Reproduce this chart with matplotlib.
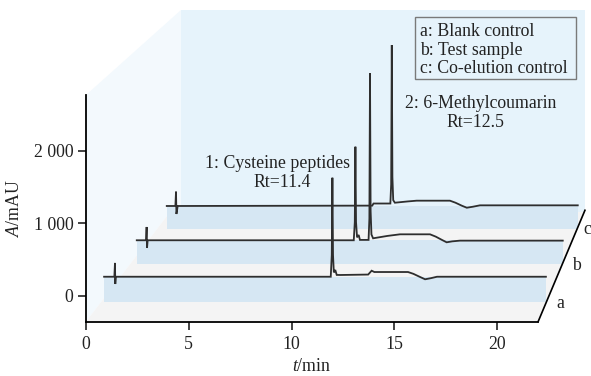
import matplotlib
matplotlib.use("Agg")
import matplotlib.pyplot as plt
from matplotlib.patches import Polygon, Rectangle

plt.rcParams['font.family'] = ['Liberation Serif', 'DejaVu Serif']
plt.rcParams['mathtext.fontset'] = 'custom'
plt.rcParams['mathtext.it'] = 'Liberation Serif:italic'
plt.rcParams['mathtext.rm'] = 'Liberation Serif'

# ---------------- data ----------------
trace_names = ['a', 'b', 'c']
legend_lines = ['a: Blank control', 'b: Test sample', 'c: Co-elution control']

# stacking offsets (pseudo-3D): time shift (min) and absorbance shift (mAU)
offset_t = [0.88, 2.47, 3.93]
offset_a = [265, 767, 1239]
band_bottom = [-78, 438, 918]

# a: blank control (raw time, raw absorbance)
t_a = [0, 0.50, 0.53, 0.545, 0.57, 11.03, 11.08, 11.11, 11.14, 11.18, 11.25, 11.32, 11.5,
       12.85, 13.02, 13.15, 14.79, 15.05, 15.35, 15.62, 15.9, 16.2, 21.5]
a_a = [0, 0, 190, -100, 0, 0, 300, 1363, 300, 60, 93, 25, 24,
       30, 83, 65, 65, 40, 0, -35, -20, 0, 0]

# b: test sample
t_b = [0, 0.45, 0.48, 0.50, 0.53, 10.56, 10.61, 10.64, 10.67, 10.72, 10.80, 10.86,
       11.28, 11.32, 11.35, 11.38, 11.42, 11.5, 12.2, 12.81, 14.27, 14.55, 14.85, 15.08, 15.35, 15.73, 20.73]
a_b = [0, 0, 183, -106, 0, 0, 250, 1288, 250, 40, 73, 5,
       5, 300, 2298, 400, 80, 27, 60, 82, 82, 50, 5, -28, -15, -5, -5]

# c: co-elution control
t_c = [0, 0.42, 0.45, 0.47, 0.50, 0.53, 10.0, 10.06, 10.88, 10.92, 10.95, 10.98, 11.02, 11.1,
       11.7, 12.16, 13.78, 14.05, 14.35, 14.6, 14.9, 15.24, 20.0]
a_c = [0, 0, 197, -110, -60, 0, 5, 34, 34, 300, 2216, 400, 80, 45,
       62, 73, 73, 45, 5, -24, -10, 9, 9]

traces_t = [t_a, t_b, t_c]
traces_a = [a_a, a_b, a_c]

x_ticks = [0, 5, 10, 15, 20]
y_ticks = [0, 1000, 2000]
y_ticklabels = ['0', '1 000', '2 000']

# ---------------- figure ----------------
W, H = 591, 376
fig = plt.figure(figsize=(W / 100, H / 100), dpi=100)
ax = fig.add_axes([86 / W, 1 - 321.7 / H, (W - 86) / W, (321.7 - 10) / H])
ax.set_xlim(0, 24.574)
ax.set_ylim(-354, 3937)
ax.patch.set_alpha(0)

# pseudo-3D walls
left_wall = Polygon([(0, -354), (0, 2767), (4.62, 3937), (4.62, 1156), (4.09, 1156)],
                    closed=True, fc='#f3f9fd', ec='none', zorder=0)
back_wall = Rectangle((4.62, 1156), 24.28 - 4.62, 3937 - 1156, fc='#e6f3fb', ec='none', zorder=0)
floor = Polygon([(0, -354), (22.0, -354), (24.28, 1156), (4.09, 1156)],
                closed=True, fc='#f4f4f4', ec='none', zorder=1)
for p in (left_wall, back_wall, floor):
    ax.add_patch(p)
    p.set_clip_on(False)
ax.plot([22.0, 24.28], [-354, 1180], color='black', lw=1.2, clip_on=False, zorder=5)

# bands and traces
for i in range(3):
    ts = [t + offset_t[i] for t in traces_t[i]]
    vs = [v + offset_a[i] for v in traces_a[i]]
    band = Rectangle((ts[0], band_bottom[i]), ts[-1] - ts[0], offset_a[i] - band_bottom[i],
                     fc='#d6e7f3', ec='none', zorder=2 + i * 0.1, clip_on=False)
    ax.add_patch(band)
    ax.plot(ts, vs, color='#2e2e2e', lw=1.3, zorder=3, clip_on=False, solid_joinstyle='miter')

# trace letters
letter_pos = [(22.87, -169), (23.63, 358), (24.18, 849)]
for name, (x, y) in zip(trace_names, letter_pos):
    ax.text(x, y, name, fontsize=12.8, ha='left', va='baseline', color='#222222', clip_on=False)

# annotations
ax.text(9.34, 1758, '1: Cysteine peptides', fontsize=12.8, ha='center', va='baseline', color='#222222')
ax.text(9.56, 1504, 'Rt=11.4', fontsize=12.8, ha='center', va='baseline', color='#222222')
ax.text(19.22, 2584, '2: 6-Methylcoumarin', fontsize=12.8, ha='center', va='baseline', color='#222222')
ax.text(18.97, 2330, 'Rt=12.5', fontsize=12.8, ha='center', va='baseline', color='#222222')

# legend box
ax.add_patch(Rectangle((16.01, 2983), 23.83 - 16.01, 3844 - 2983, fc='none', ec='#7a7a7a',
                       lw=1.0, zorder=6, clip_on=False))
for line, y in zip(legend_lines, [3579, 3317, 3065]):
    ax.text(16.25, y, line, fontsize=12.8, ha='left', va='baseline', color='#222222', zorder=7)

# axes
for s in ('top', 'right'):
    ax.spines[s].set_visible(False)
ax.spines['left'].set_bounds(-354, 2767)
ax.spines['bottom'].set_bounds(0, 22.0)
for s in ('left', 'bottom'):
    ax.spines[s].set_linewidth(1.3)
    ax.spines[s].set_zorder(5)
ax.set_xticks(x_ticks)
ax.set_yticks(y_ticks)
ax.set_yticklabels(y_ticklabels)
ax.tick_params(axis='both', direction='out', length=5.5, width=1.2, labelsize=12.8,
               colors='#222222')
ax.tick_params(axis='x', pad=5)
ax.tick_params(axis='y', pad=3.5)
ax.set_xlabel(r'$\it{t}$/min', fontsize=12.8, labelpad=3.5, color='#222222')
ax.set_ylabel(r'$\it{A}$/mAU', fontsize=12.8, labelpad=8, color='#222222')
ax.xaxis.label.set_position(((312 - 86) / (W - 86), 0))
ax.yaxis.label.set_position((0, (321.7 - 208) / (321.7 - 10)))

fig.savefig('out.png', dpi=100)
